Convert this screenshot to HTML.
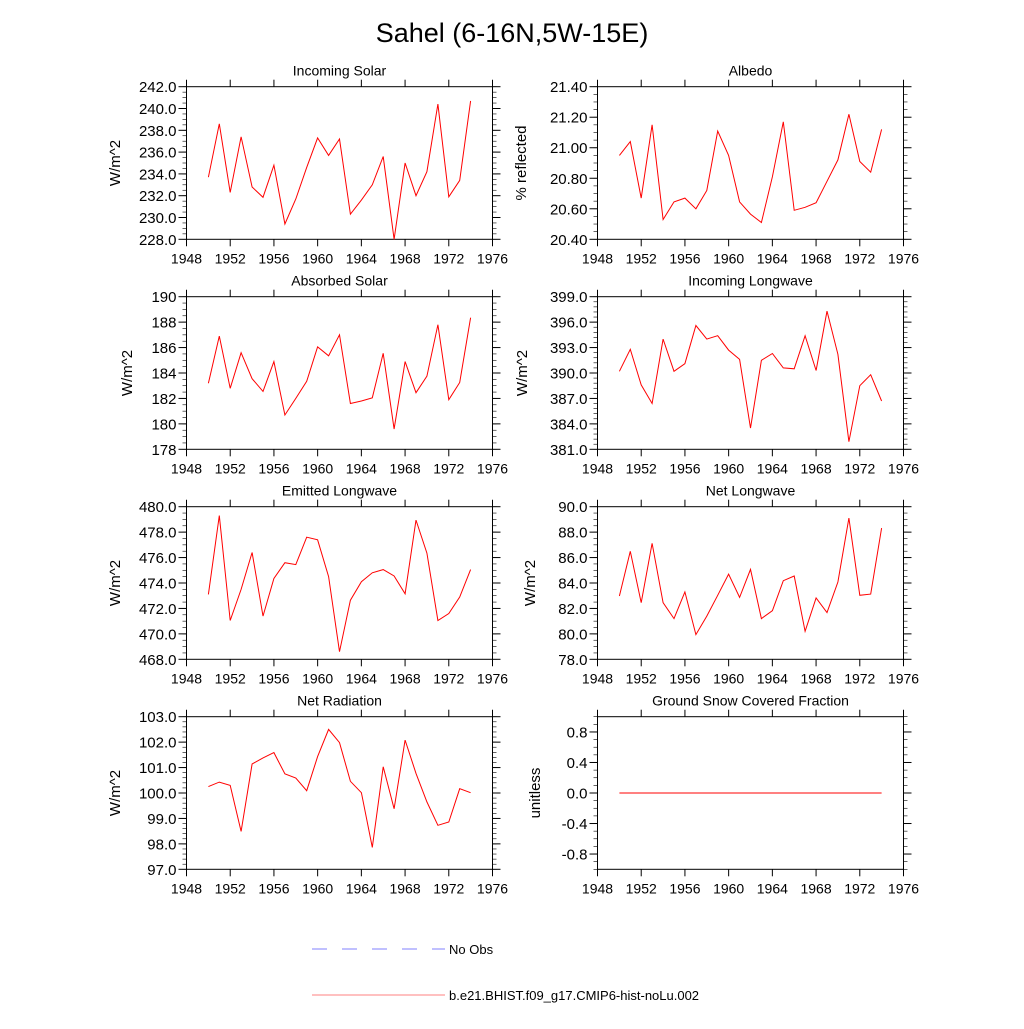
<!DOCTYPE html>
<html><head><meta charset="utf-8"><style>
body{margin:0;background:#fff;}
svg text{font-family:"Liberation Sans",Arial,sans-serif;fill:#000;}
</style></head><body>
<svg id="chart" width="1024" height="1024" viewBox="0 0 1024 1024" xmlns="http://www.w3.org/2000/svg">
<rect width="1024" height="1024" fill="#fff"/>
<text x="512" y="42" font-size="27" text-anchor="middle">Sahel (6-16N,5W-15E)</text>
<g id="panels"></g>
<g>
<line x1="312" y1="949" x2="445" y2="949" stroke="#8080ff" stroke-width="1" stroke-dasharray="15,15"/>
<text x="449" y="954" font-size="13">No Obs</text>
<line x1="312" y1="995" x2="445" y2="995" stroke="#ff8080" stroke-width="1"/>
<text x="449" y="1000" font-size="13">b.e21.BHIST.f09_g17.CMIP6-hist-noLu.002</text>
</g>
</svg>
<script>
const years=[1950,1951,1952,1953,1954,1955,1956,1957,1958,1959,1960,1961,1962,1963,1964,1965,1966,1967,1968,1969,1970,1971,1972,1973,1974];
const xTicks=[1948,1952,1956,1960,1964,1968,1972,1976];
const incomingSolar=[233.7,238.6,232.3,237.4,232.8,231.85,234.8,229.4,231.7,234.6,237.3,235.7,237.2,230.3,231.6,233.0,235.6,228.0,235.0,232.0,234.2,240.4,231.9,233.4,240.7];
const albedo=[20.95,21.04,20.67,21.15,20.53,20.645,20.67,20.60,20.72,21.11,20.95,20.645,20.565,20.51,20.81,21.17,20.59,20.61,20.64,20.78,20.92,21.22,20.91,20.84,21.12];
const absorbedSolar=[183.2,186.9,182.8,185.6,183.55,182.55,184.9,180.7,182.0,183.35,186.05,185.35,187.0,181.6,181.8,182.05,185.55,179.6,184.9,182.45,183.75,187.8,181.9,183.25,188.35];
const incomingLW=[390.2,392.8,388.6,386.4,394.0,390.2,391.1,395.6,394.0,394.4,392.7,391.6,383.5,391.5,392.3,390.6,390.5,394.4,390.3,397.3,392.2,381.9,388.5,389.8,386.7];
const emittedLW=[473.1,479.3,471.05,473.5,476.4,471.4,474.35,475.6,475.45,477.6,477.4,474.5,468.6,472.65,474.1,474.8,475.05,474.55,473.15,478.95,476.35,471.05,471.6,472.9,475.05];
const netLW=[82.98,86.49,82.45,87.12,82.45,81.2,83.3,79.94,81.4,83.03,84.7,82.87,85.07,81.2,81.82,84.18,84.55,80.2,82.82,81.67,84.08,89.1,83.03,83.13,88.32];
const netRad=[100.25,100.43,100.3,98.49,101.14,101.38,101.59,100.75,100.59,100.09,101.43,102.5,101.98,100.46,100.01,97.86,101.03,99.38,102.08,100.77,99.65,98.73,98.86,100.17,100.01];
const snowFrac=[0,0,0,0,0,0,0,0,0,0,0,0,0,0,0,0,0,0,0,0,0,0,0,0,0];
const ticksIS=[228,230,232,234,236,238,240,242];
const ticksAlb=[20.4,20.6,20.8,21.0,21.2,21.4];
const ticksAS=[178,180,182,184,186,188,190];
const ticksILW=[381,384,387,390,393,396,399];
const ticksELW=[468,470,472,474,476,478,480];
const ticksNLW=[78,80,82,84,86,88,90];
const ticksNR=[97,98,99,100,101,102,103];
const ticksSnow=[-0.8,-0.4,0,0.4,0.8];

const NS='http://www.w3.org/2000/svg';
const root=document.getElementById('panels');
function mk(tag,attrs,parent){const e=document.createElementNS(NS,tag);for(const k in attrs)e.setAttribute(k,attrs[k]);parent.appendChild(e);return e;}

function panel(o){
  const L=o.left,R=o.left+306,T=o.top,B=o.top+152.6;
  const g=mk('g',{},root);
  
  
  const xs=v=>L+(v-1948)/28*(R-L);
  const ys=v=>B-(v-o.ymin)/(o.ymax-o.ymin)*(B-T);
  // title
  const t=mk('text',{x:(L+R)/2,y:T-11,'font-size':14,'text-anchor':'middle'},g);
  t.textContent=o.title;
  
  
  // minor y ticks
  const step=o.ticks[1]-o.ticks[0];const sub=o.sub||4;
  for(let v=o.ymin;v<=o.ymax+1e-9;v+=step/sub){
    const y=ys(v);
    mk('line',{x1:L-4,x2:L,y1:y,y2:y,stroke:'#000','stroke-width':0.6},g);
    mk('line',{x1:R,x2:R+4,y1:y,y2:y,stroke:'#000','stroke-width':0.6},g);
  }
  // major y ticks + labels
  o.ticks.forEach(v=>{
    const y=ys(v);
    mk('line',{x1:L-8,x2:L,y1:y,y2:y,stroke:'#000','stroke-width':1},g);
    mk('line',{x1:R,x2:R+8,y1:y,y2:y,stroke:'#000','stroke-width':1},g);
    const tx=mk('text',{x:L-10,y:y+5.5,'font-size':15,'text-anchor':'end'},g);
    tx.textContent=v.toFixed(o.dec);
    
    
  });
  // x ticks
  xTicks.forEach(v=>{
    const x=xs(v);
    mk('line',{x1:x,x2:x,y1:B,y2:B+7,stroke:'#000','stroke-width':1},g);
    mk('line',{x1:x,x2:x,y1:T-7,y2:T,stroke:'#000','stroke-width':1},g);
    const tx=mk('text',{x:x,y:B+24,'font-size':14,'text-anchor':'middle'},g);
    tx.textContent=v;
    
    
  });
  // frame
  const fr=mk('rect',{x:L,y:T,width:R-L,height:B-T,fill:'none',stroke:'#000','stroke-width':1},g);
  
  
  // y axis title
  const yt=mk('text',{transform:`translate(${o.ylabX},${(T+B)/2}) rotate(-90)`,'font-size':15,'text-anchor':'middle'},g);
  yt.textContent=o.ylab;
  
  
  // series
  const pts=years.map((yr,i)=>xs(yr).toFixed(1)+','+ys(o.data[i]).toFixed(1)).join(' ');
  const pl=mk('polyline',{points:pts,fill:'none',stroke:'#ff0000','stroke-width':1},g);
  
  
}
const LX=186.5,RX=597.5;
const rows=[86.7,296.7,506.7,716.7];
panel({name:'incoming-solar-panel',title:'Incoming Solar',left:LX,top:rows[0],ymin:228,ymax:242,ticks:ticksIS,dec:1,data:incomingSolar,ylab:'W/m^2',ylabX:120});
panel({name:'albedo-panel',title:'Albedo',left:RX,top:rows[0],ymin:20.4,ymax:21.4,ticks:ticksAlb,dec:2,data:albedo,ylab:'% reflected',ylabX:526});
panel({name:'absorbed-solar-panel',title:'Absorbed Solar',left:LX,top:rows[1],ymin:178,ymax:190,ticks:ticksAS,dec:0,data:absorbedSolar,ylab:'W/m^2',ylabX:132});
panel({name:'incoming-longwave-panel',title:'Incoming Longwave',left:RX,top:rows[1],ymin:381,ymax:399,ticks:ticksILW,dec:1,data:incomingLW,ylab:'W/m^2',ylabX:527,sub:5});
panel({name:'emitted-longwave-panel',title:'Emitted Longwave',left:LX,top:rows[2],ymin:468,ymax:480,ticks:ticksELW,dec:1,data:emittedLW,ylab:'W/m^2',ylabX:120});
panel({name:'net-longwave-panel',title:'Net Longwave',left:RX,top:rows[2],ymin:78,ymax:90,ticks:ticksNLW,dec:1,data:netLW,ylab:'W/m^2',ylabX:535});
panel({name:'net-radiation-panel',title:'Net Radiation',left:LX,top:rows[3],ymin:97,ymax:103,ticks:ticksNR,dec:1,data:netRad,ylab:'W/m^2',ylabX:120,sub:5});
panel({name:'snow-fraction-panel',title:'Ground Snow Covered Fraction',left:RX,top:rows[3],ymin:-1,ymax:1,ticks:ticksSnow,dec:1,data:snowFrac,ylab:'unitless',ylabX:540});
</script>
</body></html>
